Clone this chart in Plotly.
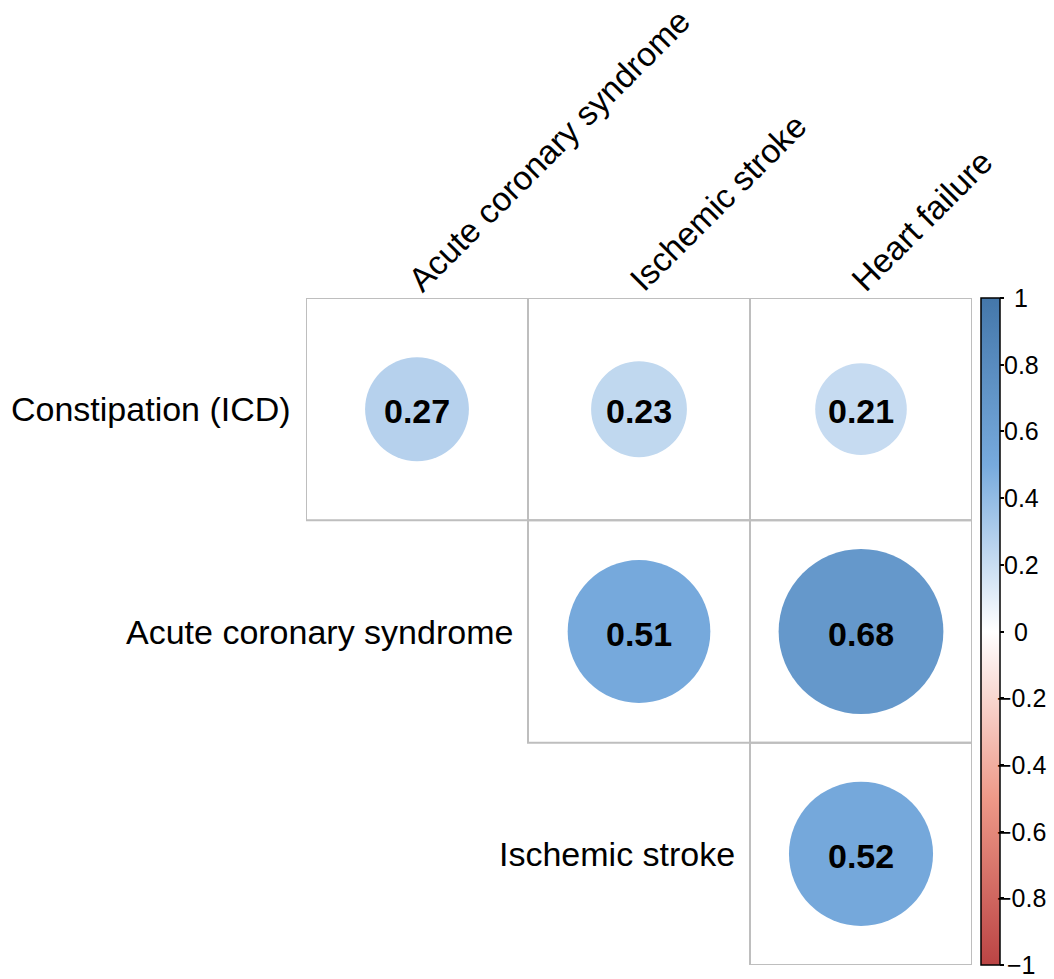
import plotly.graph_objects as go
import numpy as np

row_labels = ["Constipation (ICD)", "Acute coronary syndrome", "Ischemic stroke"]
col_labels = ["Acute coronary syndrome", "Ischemic stroke", "Heart failure"]
# upper-triangle correlation cells: (row index, column index, value)
cell_rows = [0, 0, 0, 1, 1, 2]
cell_cols = [0, 1, 2, 1, 2, 2]
cell_vals = [0.27, 0.23, 0.21, 0.51, 0.68, 0.52]

cb_tickvals = [1, 0.8, 0.6, 0.4, 0.2, 0, -0.2, -0.4, -0.6, -0.8, -1]
cb_ticktext = ["1", "0.8", "0.6", "0.4", "0.2", "0", "\u22120.2", "\u22120.4", "\u22120.6", "\u22120.8", "\u22121"]

palette_stops = [-1, -0.5, 0, 0.5, 1]
palette_cols = ["#BB4444", "#EE9988", "#FFFFFF", "#77AADD", "#4477AA"]


def hex2rgb(h):
    h = h.lstrip("#")
    return [int(h[i:i + 2], 16) for i in (0, 2, 4)]


def val2color(v):
    rgbs = np.array([hex2rgb(c) for c in palette_cols], dtype=float)
    r = np.interp(v, palette_stops, rgbs[:, 0])
    g = np.interp(v, palette_stops, rgbs[:, 1])
    b = np.interp(v, palette_stops, rgbs[:, 2])
    return "rgb(%d,%d,%d)" % (round(r), round(g), round(b))


colorscale = [[(s + 1) / 2, c] for s, c in zip(palette_stops, palette_cols)]

FONT = "Liberation Sans, Arial, Helvetica, sans-serif"
fig = go.Figure()

shapes = []
# cell borders
for r, c in zip(cell_rows, cell_cols):
    shapes.append(dict(type="rect", xref="x", yref="y",
                       x0=c + 0.5, x1=c + 1.5, y0=r + 0.5, y1=r + 1.5,
                       line=dict(color="#BEBEBE", width=2), fillcolor="rgba(0,0,0,0)", layer="below"))
# circles: area proportional to |r|
for r, c, v in zip(cell_rows, cell_cols, cell_vals):
    rad = 0.45 * np.sqrt(abs(v))
    shapes.append(dict(type="circle", xref="x", yref="y",
                       x0=c + 1 - rad, x1=c + 1 + rad, y0=r + 1 - rad, y1=r + 1 + rad,
                       line=dict(width=0), fillcolor=val2color(v), layer="below"))

# colorbar carrier
fig.add_trace(go.Scatter(
    x=[c + 1 for c in cell_cols], y=[r + 1 for r in cell_rows], mode="markers",
    marker=dict(size=0.1, opacity=0, color=cell_vals, colorscale=colorscale, cmin=-1, cmax=1,
                showscale=True,
                colorbar=dict(x=1.0135, xanchor="left", y=0.5, yanchor="middle",
                              len=1, lenmode="fraction", thickness=19,
                              outlinecolor="black", outlinewidth=1.5,
                              xpad=0, ypad=0,
                              tickvals=cb_tickvals, showticklabels=False,
                              ticks="outside", ticklen=4, tickcolor="black", tickwidth=1.5)),
    hoverinfo="skip", showlegend=False))

annotations = []
# numbers in the circles
for r, c, v in zip(cell_rows, cell_cols, cell_vals):
    annotations.append(dict(x=c + 1, y=r + 1, xref="x", yref="y", text="<b>%.2f</b>" % v,
                            showarrow=False, xanchor="center", yanchor="middle", yshift=-2,
                            font=dict(family=FONT, size=34, color="black")))
for i, lab in enumerate(row_labels):
    annotations.append(dict(x=i + 0.5, y=i + 1, xref="x", yref="y", text=lab,
                            showarrow=False, xanchor="right", yanchor="middle", xshift=-13,
                            font=dict(family=FONT, size=34, color="black")))
for j, lab in enumerate(col_labels):
    annotations.append(dict(x=j + 1, y=0.5, xref="x", yref="y", text=lab, textangle=-45,
                            showarrow=False, xanchor="left", yanchor="bottom", xshift=-19, yshift=-3,
                            font=dict(family=FONT, size=33.5, color="black")))
# colorbar labels, centred like the reference legend
for v, t in zip(cb_tickvals, cb_ticktext):
    annotations.append(dict(x=1.0736, y=(v + 1) / 2, xref="paper", yref="paper", text=t,
                            showarrow=False, xanchor="center", yanchor="middle",
                            font=dict(family=FONT, size=25, color="black")))

fig.update_layout(
    width=1054, height=979,
    margin=dict(l=306, r=82, t=298, b=14, autoexpand=False),
    paper_bgcolor="white", plot_bgcolor="white",
    xaxis=dict(range=[0.5, 3.5], visible=False, fixedrange=True),
    yaxis=dict(range=[3.5, 0.5], visible=False, fixedrange=True),
    shapes=shapes, annotations=annotations,
)

fig.write_html("out.html", config={"displayModeBar": False},
               post_script="document.body.style.margin='0';")
